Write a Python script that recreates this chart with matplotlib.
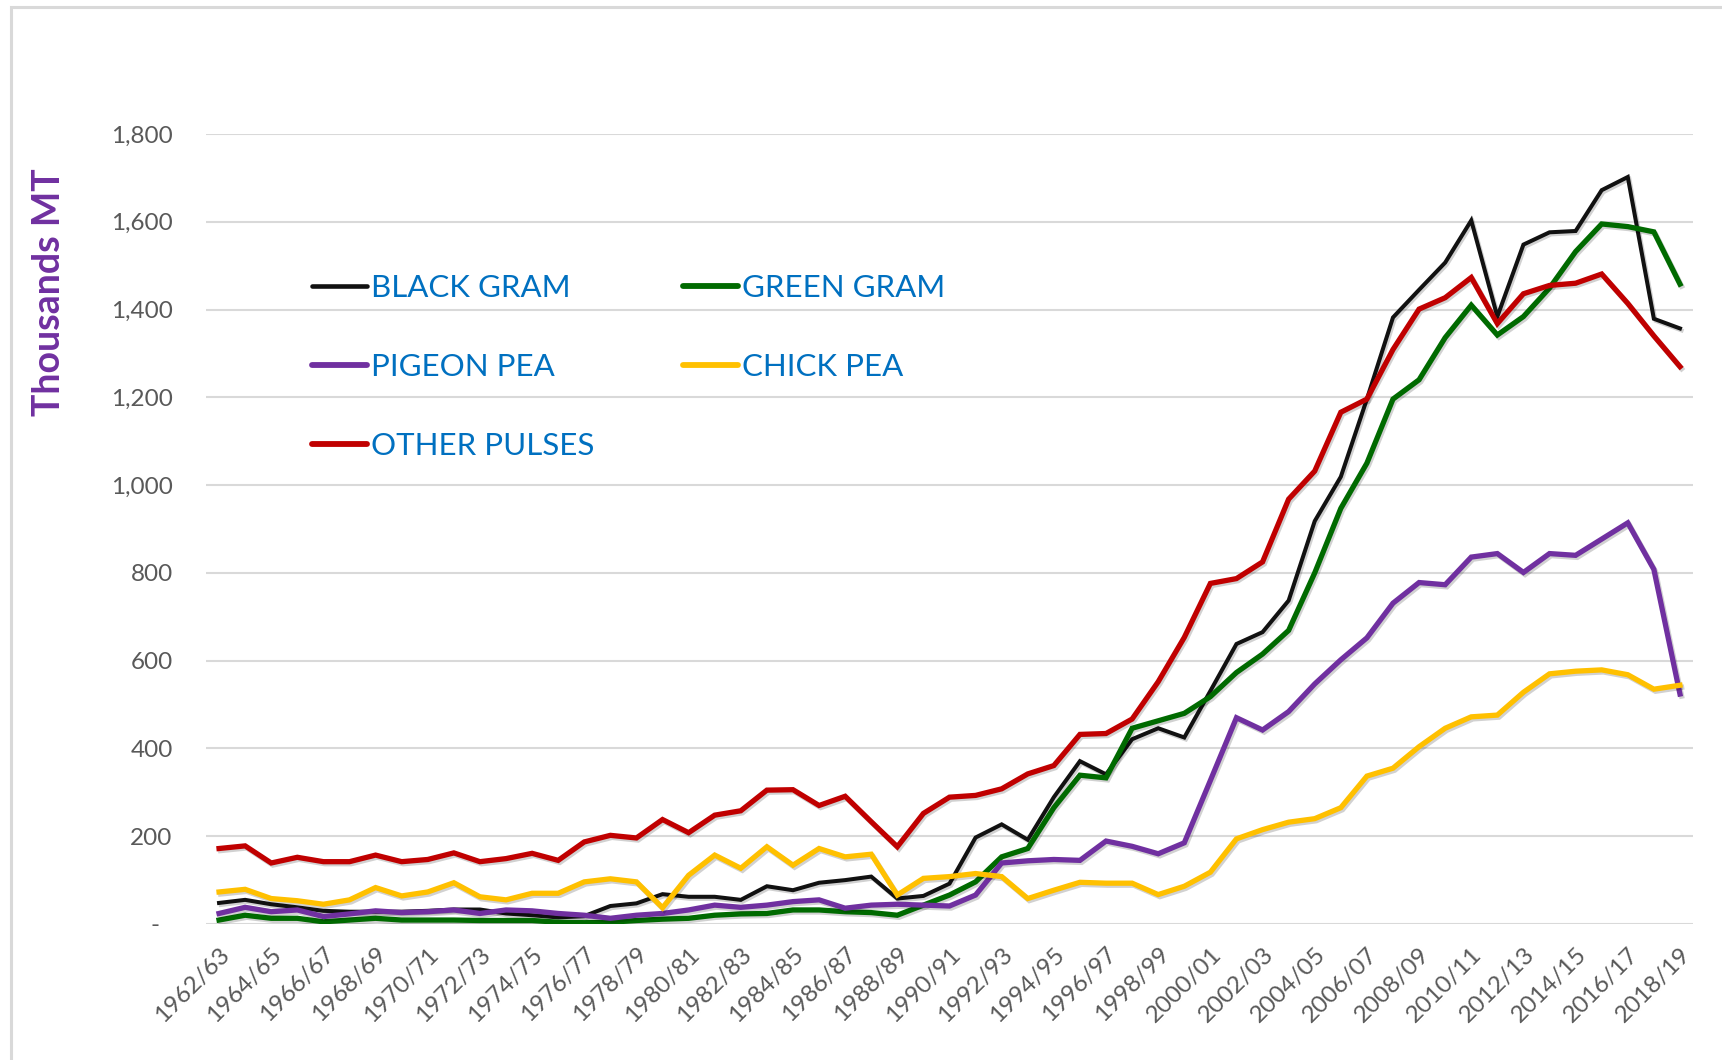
import matplotlib
matplotlib.use("Agg")
import matplotlib.pyplot as plt
import matplotlib.patheffects as pe
from matplotlib.patches import Rectangle

years = [f"{y}/{str(y + 1)[-2:]}" for y in range(1962, 2019)]

black_gram = [48, 55, 45, 38, 30, 28, 28, 28, 30, 33, 33, 24, 20, 15, 18, 41, 47, 68, 62, 62,
              55, 86, 77, 94, 100, 108, 58, 64, 92, 197, 227, 192, 289, 371, 341, 421, 446, 425,
              531, 638, 665, 737, 918, 1019, 1196, 1382, 1445, 1507, 1603, 1384, 1548, 1576,
              1579, 1672, 1702, 1379, 1357]
green_gram = [9, 20, 13, 13, 5, 9, 13, 9, 9, 9, 8, 8, 8, 4, 3, 4, 8, 11, 13, 20, 23, 24, 32, 32,
              28, 26, 20, 43, 66, 96, 153, 172, 265, 339, 333, 446, 463, 480, 518, 573, 615, 669,
              800, 947, 1050, 1196, 1240, 1336, 1410, 1342, 1384, 1449, 1532, 1595, 1589, 1577,
              1458]
pigeon_pea = [24, 38, 28, 32, 17, 23, 30, 26, 28, 32, 24, 32, 30, 24, 20, 13, 20, 24, 32, 43, 38,
              43, 51, 55, 36, 43, 45, 43, 41, 66, 139, 144, 147, 145, 189, 177, 160, 185, 327,
              470, 442, 484, 547, 602, 652, 731, 778, 773, 836, 844, 801, 844, 840, 877, 914,
              808, 524]
chick_pea = [73, 79, 58, 53, 45, 55, 83, 64, 73, 94, 62, 55, 70, 70, 96, 103, 96, 37, 111, 157,
             127, 176, 134, 172, 153, 159, 66, 104, 108, 115, 108, 58, 77, 95, 93, 93, 67, 86,
             118, 194, 215, 232, 240, 265, 337, 355, 404, 446, 472, 476, 528, 570, 576, 579,
             568, 535, 544]
other_pulses = [172, 178, 139, 152, 142, 142, 157, 142, 147, 162, 142, 149, 161, 145, 187, 202,
                196, 238, 208, 248, 258, 305, 306, 270, 291, 233, 176, 252, 289, 293, 308, 342,
                361, 432, 434, 467, 552, 653, 776, 787, 825, 968, 1032, 1166, 1196, 1309, 1401,
                1427, 1473, 1368, 1436, 1455, 1460, 1481, 1414, 1340, 1270]

y_ticks = [0, 200, 400, 600, 800, 1000, 1200, 1400, 1600, 1800]
y_tick_labels = ["-  ", "200", "400", "600", "800", "1,000", "1,200", "1,400", "1,600", "1,800"]

series = [
    ("BLACK GRAM", black_gram, "#111111", 2.9),
    ("GREEN GRAM", green_gram, "#006A00", 3.8),
    ("PIGEON PEA", pigeon_pea, "#7030A0", 3.8),
    ("CHICK PEA", chick_pea, "#FFC000", 3.8),
    ("OTHER PULSES", other_pulses, "#C00000", 3.8),
]

plt.rcParams['font.family'] = ['Lato', 'DejaVu Sans']

fig = plt.figure(figsize=(17.22, 10.6), dpi=100)
W, H = 1722, 1060
ax = fig.add_axes([206 / W, 1 - 924 / H, (1693 - 206) / W, (924 - 134) / H])

x = list(range(len(years)))
handles = {}
for name, vals, col, lw in series:
    ln, = ax.plot(x, vals, color=col, lw=lw, solid_joinstyle='miter', label=name,
                  path_effects=[pe.SimpleLineShadow(offset=(1.2, -1.5), shadow_color='black', alpha=0.18),
                                pe.Normal()])
    handles[name] = ln

ax.set_xlim(-0.5, len(years) - 0.5)
ax.set_ylim(0, 1800)
ax.set_yticks(y_ticks)
ax.set_yticklabels(y_tick_labels)
ax.set_xticks(x[::2])
ax.set_xticklabels(years[::2], rotation=45, ha='right', va='top', rotation_mode='anchor')
ax.tick_params(axis='both', length=0, colors='#595959', labelsize=17.5)
ax.tick_params(axis='y', pad=24)
ax.tick_params(axis='x', pad=14)
ax.grid(axis='y', color='#D9D9D9', lw=1.5)
ax.set_axisbelow(True)
for s in ax.spines.values():
    s.set_visible(False)

ax.set_ylabel("Thousands MT", fontsize=27, fontweight='bold', color='#7030A0')
ax.yaxis.set_label_coords(-0.094, 0.80)

order = ["BLACK GRAM", "PIGEON PEA", "OTHER PULSES", "GREEN GRAM", "CHICK PEA"]
leg_handles = []
for n in order:
    h = handles[n]
    lh = plt.Line2D([], [], color=h.get_color(), lw=h.get_linewidth() + 0.4, solid_capstyle='round')
    leg_handles.append(lh)
leg = ax.legend(leg_handles, order, ncol=2, loc='upper left',
                bbox_to_anchor=((312 - 206) / (1693 - 206), 1 - (274 - 134) / (924 - 134)),
                frameon=False, fontsize=22.5, handlelength=1.75, handletextpad=0.15,
                labelspacing=1.63, columnspacing=2.82, borderaxespad=0, borderpad=0)
for t in leg.get_texts():
    t.set_color('#0070C0')

fig.patches.append(Rectangle((11 / W, -0.05), 1.2, 1.05 - 7 / H, transform=fig.transFigure,
                             fill=False, edgecolor='#D9D9D9', lw=2.2))

fig.savefig("out.png", dpi=100)
